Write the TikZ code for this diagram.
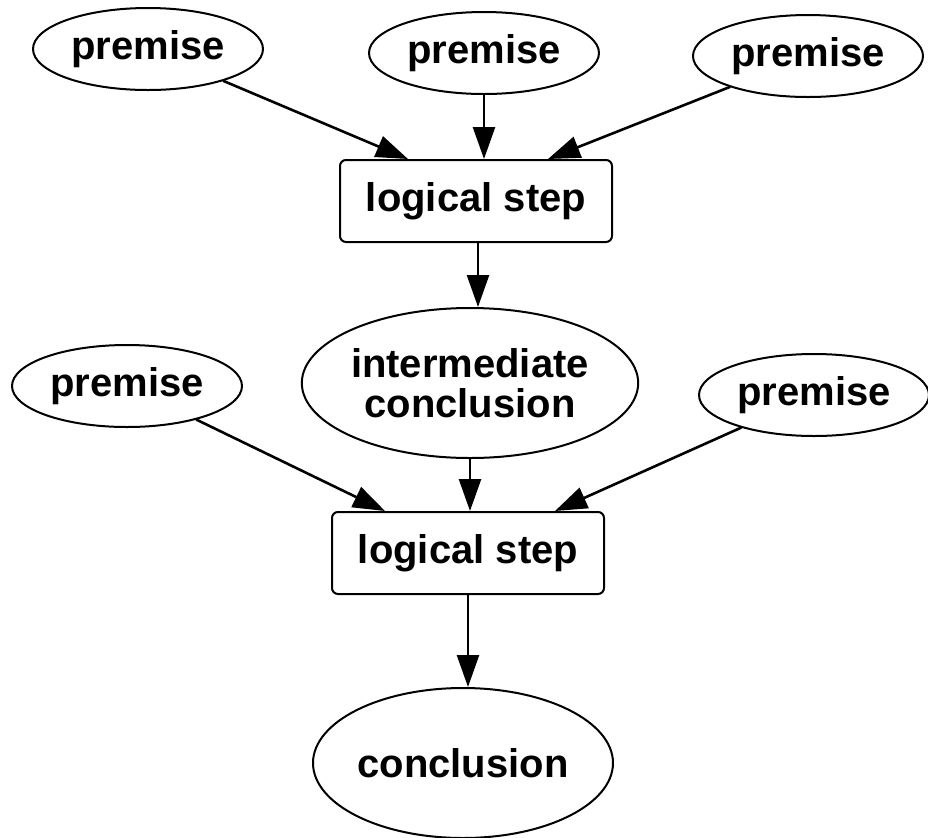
\documentclass[tikz,border=0pt]{standalone}
\usepackage{fontspec}
\setmainfont{Liberation Sans}
\usetikzlibrary{arrows.meta,shapes.geometric}

\begin{document}
\begin{tikzpicture}[x=0.5pt, y=-0.5pt, line cap=round, line join=round,
		>={Triangle[length=16pt,width=11pt]},
		premise/.style={ellipse, draw, line width=1pt, inner sep=0pt,
			minimum width=115pt, minimum height=41pt},
		stepbox/.style={rectangle, draw, rounded corners=3pt, line width=1pt,
			minimum width=136pt, minimum height=41pt},
		result/.style={ellipse, draw, line width=1pt, inner sep=0pt, align=center,
			minimum width=150pt, minimum height=75pt},
		link/.style={->, line width=1.3pt},
		font=\fontsize{20}{20}\selectfont\bfseries]
		% Fix the frame to the reference size
		\useasboundingbox (0,0) rectangle (928,837);
		
		% First row of premises
		\node[premise] (pa) at (148,49) {premise};
		\node[premise] (pb) at (484,53) {premise};
		\node[premise] (pc) at (808,56) {premise};
		
		% First logical step and its result
		\node[stepbox] (stepa) at (476,201) {logical step};
		\node[result] (inter) at (470,383) {intermediate\\conclusion};
		
		% Second row of premises
		\node[premise] (pd) at (127,386) {premise};
		\node[premise] (pe) at (814,395) {premise};
		
		% Second logical step and final conclusion
		\node[stepbox] (stepb) at (468,553) {logical step};
		\node[result] (concl) at (463,763) {conclusion};
		
		% Arrows into the first step
		\draw[link] (pa) -- ([xshift=-34pt]stepa.north);
		\draw[link] (pb.south) -- (pb.south |- stepa.north);
		\draw[link] (pc) -- ([xshift=36pt]stepa.north);
		\draw[link] ([xshift=1pt]stepa.south) -- ([xshift=1pt]stepa.south |- inter.north);
		
		% Arrows into the second step
		\draw[link] (pd) -- ([xshift=-41.5pt]stepb.north);
		\draw[link] (inter.south) -- (inter.south |- stepb.north);
		\draw[link] (pe) -- ([xshift=43.5pt]stepb.north);
		\draw[link] (stepb.south) -- (stepb.south |- concl.north);
	\end{tikzpicture}
\end{document}
